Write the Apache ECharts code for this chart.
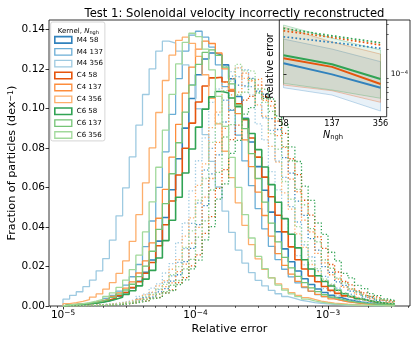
<!DOCTYPE html>
<html>
<head>
<meta charset="utf-8">
<title>Test 1: Solenoidal velocity incorrectly reconstructed</title>
<script src="https://cdn.jsdelivr.net/npm/echarts@6/dist/echarts.min.js"></script>
<style>
  html, body { margin: 0; padding: 0; background: #fff; }
  #main { width: 415px; height: 339px; }
</style>
</head>
<body>
<div id="main"></div>
<script>
var FONT = 'DejaVu Sans';

// histogram bins: 50 log-spaced bins from 1e-5 to 10^-2.5 (0.05 dex each)
var binLo = -5, binWidth = 0.05, nBins = 50;
var edges = [];
for (var k = 0; k <= nBins; k++) edges.push(Math.pow(10, binLo + binWidth * k));

// main panel tick values
var yTicks = [0, 0.02, 0.04, 0.06, 0.08, 0.10, 0.12, 0.14];
var xMajor = [1e-5, 1e-4, 1e-3];
var xMinor = [8e-6, 9e-6, 2e-5, 3e-5, 4e-5, 5e-5, 6e-5, 7e-5, 8e-5, 9e-5,
              2e-4, 3e-4, 4e-4, 5e-4, 6e-4, 7e-4, 8e-4, 9e-4, 2e-3, 3e-3, 4e-3];

// solid histograms (fraction per dex, one value per bin)
var M4_58 = [0.0004,0.0006,0.0008,0.0011,0.0015,0.0020,0.0027,0.0037,0.0050,0.0068,
  0.0092,0.0125,0.0171,0.0233,0.0328,0.0448,0.0588,0.0745,0.0900,0.1050,
  0.1170,0.1250,0.1280,0.1270,0.1220,0.1150,0.1060,0.0950,0.0830,0.0705,
  0.0586,0.0475,0.0376,0.0289,0.0224,0.0177,0.0138,0.0109,0.0086,0.0068,
  0.0054,0.0043,0.0033,0.0027,0.0020,0.0016,0.0013,0.0010,0.0008,0.0006];
var M4_137 = [0.0005,0.0007,0.0010,0.0013,0.0019,0.0027,0.0038,0.0053,0.0075,0.0106,
  0.0148,0.0210,0.0300,0.0430,0.0600,0.0780,0.0970,0.1150,0.1290,0.1370,
  0.1390,0.1360,0.1310,0.1220,0.1110,0.0990,0.0865,0.0734,0.0609,0.0493,
  0.0390,0.0302,0.0235,0.0186,0.0147,0.0117,0.0093,0.0074,0.0058,0.0047,
  0.0037,0.0029,0.0023,0.0018,0.0014,0.0012,0.0009,0.0007,0.0006,0.0005];
var M4_356 = [0.0035,0.0054,0.0072,0.0098,0.0131,0.0178,0.0240,0.0333,0.0456,0.0598,
  0.0754,0.0915,0.1070,0.1200,0.1290,0.1340,0.1330,0.1290,0.1220,0.1120,
  0.0998,0.0867,0.0732,0.0602,0.0480,0.0373,0.0283,0.0217,0.0169,0.0130,
  0.0102,0.0079,0.0062,0.0048,0.0038,0.0029,0.0023,0.0017,0.0014,0.0011,
  0.0008,0.0007,0.0005,0.0004,0.0003,0.0003,0.0002,0.0002,0.0001,0.0001];
var C4_58 = [0.0005,0.0007,0.0009,0.0012,0.0016,0.0022,0.0030,0.0039,0.0052,0.0068,
  0.0093,0.0123,0.0166,0.0220,0.0305,0.0411,0.0531,0.0663,0.0798,0.0925,
  0.1032,0.1113,0.1154,0.1157,0.1133,0.1088,0.1023,0.0942,0.0850,0.0753,
  0.0652,0.0553,0.0459,0.0375,0.0299,0.0234,0.0187,0.0152,0.0123,0.0099,
  0.0079,0.0064,0.0051,0.0042,0.0035,0.0028,0.0022,0.0017,0.0014,0.0011];
var C4_137 = [0.0006,0.0008,0.0010,0.0014,0.0019,0.0026,0.0036,0.0048,0.0066,0.0090,
  0.0122,0.0167,0.0228,0.0319,0.0444,0.0590,0.0753,0.0919,0.1077,0.1209,
  0.1300,0.1340,0.1328,0.1280,0.1200,0.1096,0.0973,0.0840,0.0705,0.0576,
  0.0458,0.0354,0.0265,0.0206,0.0161,0.0125,0.0097,0.0075,0.0059,0.0047,
  0.0036,0.0028,0.0021,0.0017,0.0013,0.0010,0.0008,0.0006,0.0005,0.0004];
var C4_356 = [0.0012,0.0017,0.0023,0.0032,0.0045,0.0061,0.0085,0.0118,0.0165,0.0228,
  0.0327,0.0462,0.0623,0.0800,0.0979,0.1141,0.1269,0.1344,0.1360,0.1329,
  0.1263,0.1170,0.1051,0.0921,0.0783,0.0649,0.0522,0.0408,0.0311,0.0238,
  0.0185,0.0143,0.0112,0.0087,0.0068,0.0053,0.0042,0.0033,0.0025,0.0019,
  0.0015,0.0012,0.0009,0.0007,0.0005,0.0004,0.0003,0.0003,0.0002,0.0002];
var C6_58 = [0.0005,0.0006,0.0008,0.0011,0.0014,0.0019,0.0025,0.0034,0.0044,0.0059,
  0.0077,0.0102,0.0136,0.0180,0.0243,0.0331,0.0434,0.0550,0.0673,0.0794,
  0.0905,0.0996,0.1058,0.1085,0.1078,0.1052,0.1008,0.0947,0.0873,0.0791,
  0.0703,0.0614,0.0525,0.0442,0.0363,0.0294,0.0234,0.0187,0.0153,0.0124,
  0.0101,0.0080,0.0062,0.0048,0.0037,0.0029,0.0022,0.0017,0.0013,0.0010];
var C6_137 = [0.0005,0.0007,0.0010,0.0013,0.0018,0.0025,0.0033,0.0044,0.0060,0.0081,
  0.0110,0.0149,0.0202,0.0277,0.0388,0.0518,0.0669,0.0826,0.0981,0.1117,
  0.1222,0.1283,0.1296,0.1268,0.1209,0.1124,0.1017,0.0897,0.0771,0.0645,
  0.0526,0.0419,0.0324,0.0246,0.0193,0.0150,0.0118,0.0092,0.0073,0.0057,
  0.0045,0.0035,0.0027,0.0021,0.0017,0.0013,0.0010,0.0008,0.0006,0.0005];
var C6_356 = [0.0006,0.0009,0.0012,0.0017,0.0025,0.0034,0.0048,0.0066,0.0094,0.0131,
  0.0184,0.0257,0.0375,0.0527,0.0702,0.0890,0.1071,0.1225,0.1334,0.1380,
  0.1363,0.1300,0.1195,0.1061,0.0909,0.0752,0.0600,0.0462,0.0344,0.0251,
  0.0189,0.0142,0.0106,0.0080,0.0061,0.0047,0.0035,0.0026,0.0020,0.0015,
  0.0011,0.0008,0.0006,0.0005,0.0004,0.0003,0.0002,0.0002,0.0001,0.0001];

// dotted histograms
var M4_58_dot = [0.0001,0.0001,0.0002,0.0003,0.0004,0.0005,0.0007,0.0009,0.0012,0.0016,
  0.0024,0.0028,0.0042,0.0049,0.0071,0.0088,0.0126,0.0158,0.0225,0.0292,
  0.0412,0.0508,0.0668,0.0765,0.0931,0.0992,0.1118,0.1109,0.1152,0.1086,
  0.1072,0.0948,0.0893,0.0751,0.0672,0.0531,0.0459,0.0341,0.0283,0.0199,
  0.0170,0.0122,0.0104,0.0075,0.0066,0.0046,0.0041,0.0028,0.0025,0.0017];
var M4_137_dot = [0.0001,0.0001,0.0002,0.0003,0.0004,0.0006,0.0008,0.0011,0.0014,0.0020,
  0.0025,0.0038,0.0046,0.0068,0.0083,0.0121,0.0152,0.0221,0.0290,0.0418,
  0.0521,0.0688,0.0798,0.0967,0.1041,0.1163,0.1158,0.1195,0.1110,0.1088,
  0.0952,0.0889,0.0733,0.0651,0.0503,0.0425,0.0309,0.0249,0.0179,0.0150,
  0.0107,0.0090,0.0064,0.0055,0.0040,0.0033,0.0024,0.0020,0.0014,0.0012];
var M4_356_dot = [0.0001,0.0002,0.0003,0.0004,0.0005,0.0007,0.0010,0.0013,0.0018,0.0025,
  0.0034,0.0049,0.0060,0.0090,0.0112,0.0167,0.0214,0.0320,0.0420,0.0582,
  0.0735,0.0851,0.1030,0.1098,0.1212,0.1186,0.1205,0.1110,0.1068,0.0921,
  0.0840,0.0680,0.0588,0.0441,0.0364,0.0255,0.0208,0.0150,0.0125,0.0088,
  0.0073,0.0052,0.0044,0.0031,0.0026,0.0018,0.0015,0.0011,0.0009,0.0007];
var C4_58_dot = [0.0001,0.0001,0.0002,0.0002,0.0003,0.0004,0.0005,0.0007,0.0009,0.0012,
  0.0016,0.0023,0.0027,0.0039,0.0046,0.0066,0.0082,0.0118,0.0144,0.0203,
  0.0259,0.0367,0.0452,0.0595,0.0690,0.0842,0.0915,0.1042,0.1061,0.1118,
  0.1060,0.1035,0.0935,0.0873,0.0745,0.0665,0.0535,0.0460,0.0350,0.0292,
  0.0210,0.0172,0.0125,0.0107,0.0077,0.0066,0.0048,0.0041,0.0030,0.0024];
var C4_137_dot = [0.0001,0.0001,0.0002,0.0003,0.0004,0.0005,0.0007,0.0009,0.0012,0.0016,
  0.0021,0.0033,0.0037,0.0056,0.0064,0.0098,0.0117,0.0174,0.0212,0.0318,
  0.0398,0.0551,0.0645,0.0828,0.0899,0.1068,0.1082,0.1178,0.1141,0.1150,
  0.1041,0.1012,0.0862,0.0803,0.0642,0.0578,0.0434,0.0375,0.0266,0.0218,
  0.0158,0.0136,0.0096,0.0085,0.0060,0.0052,0.0037,0.0032,0.0023,0.0018];
var C4_356_dot = [0.0001,0.0002,0.0002,0.0003,0.0005,0.0007,0.0009,0.0012,0.0016,0.0021,
  0.0031,0.0038,0.0056,0.0070,0.0102,0.0128,0.0186,0.0235,0.0354,0.0446,
  0.0610,0.0719,0.0902,0.0981,0.1131,0.1150,0.1205,0.1152,0.1138,0.1018,
  0.0960,0.0808,0.0728,0.0572,0.0490,0.0365,0.0297,0.0210,0.0174,0.0128,
  0.0105,0.0077,0.0064,0.0047,0.0039,0.0029,0.0024,0.0017,0.0014,0.0011];
var C6_58_dot = [0.0000,0.0001,0.0001,0.0002,0.0002,0.0003,0.0004,0.0006,0.0008,0.0011,
  0.0015,0.0021,0.0026,0.0038,0.0045,0.0065,0.0078,0.0108,0.0132,0.0188,
  0.0232,0.0335,0.0402,0.0541,0.0618,0.0772,0.0838,0.0971,0.1004,0.1078,
  0.1050,0.1046,0.0962,0.0918,0.0805,0.0731,0.0606,0.0534,0.0420,0.0362,
  0.0272,0.0228,0.0165,0.0142,0.0104,0.0088,0.0063,0.0052,0.0036,0.0028];
var C6_137_dot = [0.0001,0.0001,0.0001,0.0002,0.0003,0.0004,0.0005,0.0007,0.0010,0.0013,
  0.0019,0.0023,0.0034,0.0041,0.0060,0.0073,0.0105,0.0129,0.0188,0.0236,
  0.0348,0.0431,0.0587,0.0676,0.0855,0.0918,0.1068,0.1082,0.1148,0.1098,
  0.1095,0.0985,0.0948,0.0806,0.0735,0.0590,0.0512,0.0391,0.0324,0.0233,
  0.0191,0.0141,0.0117,0.0087,0.0072,0.0053,0.0045,0.0034,0.0028,0.0020];
var C6_356_dot = [0.0001,0.0001,0.0002,0.0003,0.0004,0.0005,0.0007,0.0010,0.0014,0.0018,
  0.0026,0.0032,0.0048,0.0059,0.0087,0.0109,0.0158,0.0199,0.0296,0.0380,
  0.0535,0.0645,0.0828,0.0925,0.1090,0.1138,0.1222,0.1190,0.1188,0.1080,
  0.1030,0.0872,0.0793,0.0630,0.0540,0.0402,0.0326,0.0228,0.0189,0.0136,
  0.0111,0.0080,0.0066,0.0048,0.0040,0.0029,0.0024,0.0017,0.0014,0.0011];

// inset: relative error vs N_ngh
var nghLabels = ['58', '137', '356'];
var nghPos = [0, 1, 2];
var midM4 = [1.35e-4, 0.99e-4, 0.684e-4];
var midC4 = [1.55e-4, 1.22e-4, 0.758e-4];
var midC6 = [1.68e-4, 1.31e-4, 0.87e-4];
var dotM4 = [2.81e-4, 2.41e-4, 2.04e-4];
var dotC4 = [3.32e-4, 2.77e-4, 2.24e-4];
var dotC6 = [3.55e-4, 2.89e-4, 2.38e-4];
var hiM4 = [2.64e-4, 2.00e-4, 1.41e-4];
var hiC4 = [3.68e-4, 2.43e-4, 1.74e-4];
var hiC6 = [3.89e-4, 2.71e-4, 1.95e-4];
var loM4 = [6.84e-5, 5.58e-5, 3.58e-5];
var loC4 = [7.37e-5, 6.29e-5, 4.56e-5];
var loC6 = [7.73e-5, 6.42e-5, 5.10e-5];
var insetYMajor = [1e-4];
var insetYMinor = [4e-5, 5e-5, 6e-5, 7e-5, 8e-5, 9e-5, 2e-4, 3e-4, 4e-4];

var names = ['M4 58', 'M4 137', 'M4 356', 'C4 58', 'C4 137', 'C4 356', 'C6 58', 'C6 137', 'C6 356'];
var solidSets = [M4_58, M4_137, M4_356, C4_58, C4_137, C4_356, C6_58, C6_137, C6_356];
var dottedSets = [M4_58_dot, M4_137_dot, M4_356_dot, C4_58_dot, C4_137_dot, C4_356_dot, C6_58_dot, C6_137_dot, C6_356_dot];
var palette = ['#3182bd', '#6baed6', '#9ecae1', '#e6550d', '#fd8d3c', '#fdae6b', '#31a354', '#74c476', '#a1d99b'];
var kernelRGB = { M4: '49,130,189', C4: '230,85,13', C6: '49,163,84' };

function stepData(vals) {
  var pts = [[edges[0], 0]];
  for (var i = 0; i < vals.length; i++) pts.push([edges[i], vals[i]]);
  pts.push([edges[vals.length], vals[vals.length - 1]]);
  pts.push([edges[vals.length], 0]);
  return pts;
}

function supLabel(v) {
  var e = Math.round(Math.log(v) / Math.LN10);
  return '{b|10}{e|\u2212' + Math.abs(e) + '}';
}

var series = [];
for (var i = 0; i < names.length; i++) {
  series.push({
    name: names[i], type: 'line', step: 'end', data: stepData(solidSets[i]),
    xAxisIndex: 0, yAxisIndex: 0, symbol: 'none', silent: true,
    lineStyle: { color: palette[i], width: i % 3 === 0 ? 1.6 : 1.3 },
    itemStyle: { color: palette[i] }
  });
  series.push({
    name: names[i] + ' dotted', type: 'line', step: 'end', data: stepData(dottedSets[i]),
    xAxisIndex: 0, yAxisIndex: 0, symbol: 'none', silent: true,
    lineStyle: { color: palette[i], width: 1.3, type: [1.3, 2] }
  });
}

function bandSeries(lo, hi, rgb) {
  return {
    type: 'custom', xAxisIndex: 2, yAxisIndex: 1, zlevel: 1, z: 2, silent: true,
    data: nghPos.map(function (x, j) { return [x, lo[j], hi[j]]; }),
    encode: { x: 0, y: [1, 2] },
    renderItem: function (params, api) {
      if (params.dataIndex !== 0) return null;
      var top = [], bot = [];
      for (var j = 0; j < nghPos.length; j++) {
        top.push(api.coord([nghPos[j], hi[j]]));
        bot.unshift(api.coord([nghPos[j], lo[j]]));
      }
      return {
        type: 'polygon', shape: { points: top.concat(bot) },
        style: { fill: 'rgba(' + rgb + ',0.11)', stroke: 'rgba(' + rgb + ',0.3)', lineWidth: 1 }
      };
    }
  };
}

function insetLine(vals, color, dotted) {
  return {
    type: 'line', xAxisIndex: 2, yAxisIndex: 1, zlevel: 1, z: 3, symbol: 'none', silent: true,
    data: nghPos.map(function (x, j) { return [x, vals[j]]; }),
    lineStyle: dotted ? { color: color, width: 1.7, type: [1.7, 2.3] } : { color: color, width: 2 }
  };
}

series.push(bandSeries(loM4, hiM4, kernelRGB.M4));
series.push(bandSeries(loC4, hiC4, kernelRGB.C4));
series.push(bandSeries(loC6, hiC6, kernelRGB.C6));
series.push(insetLine(midM4, palette[0], false));
series.push(insetLine(midC4, palette[3], false));
series.push(insetLine(midC6, palette[6], false));
series.push(insetLine(dotM4, palette[0], true));
series.push(insetLine(dotC4, palette[3], true));
series.push(insetLine(dotC6, palette[6], true));

var tickLine = { color: '#000', width: 0.8 };
var chart = echarts.init(document.getElementById('main'), null, { renderer: 'canvas' });

chart.setOption({
  animation: false,
  backgroundColor: '#fff',
  textStyle: { fontFamily: FONT },
  title: [
    { text: 'Test 1: Solenoidal velocity incorrectly reconstructed', left: 229.5, top: 3, textAlign: 'center',
      textStyle: { fontFamily: FONT, fontSize: 11.6, fontWeight: 'normal', color: '#000' } },
    { text: '{a|Kernel, }{i|N}{s|ngh}', left: 52.7, top: 22, z: 10,
      textStyle: { fontWeight: 'normal', rich: {
        a: { fontFamily: FONT, fontSize: 7, fontWeight: 'normal', color: '#000' },
        i: { fontFamily: FONT, fontSize: 7, fontWeight: 'normal', fontStyle: 'italic', color: '#000' },
        s: { fontFamily: FONT, fontSize: 5, fontWeight: 'normal', color: '#000', verticalAlign: 'bottom', padding: [3, 0, 0, 0] }
      } } }
  ],
  legend: {
    data: names.map(function (n, j) {
      return { name: n, icon: 'rect',
        itemStyle: { color: 'rgba(0,0,0,0)', borderColor: palette[j], borderWidth: j % 3 === 0 ? 1.6 : 1.3 } };
    }),
    orient: 'vertical', left: 50.7, top: 22,
    itemWidth: 17, itemHeight: 6.5, itemGap: 4,
    padding: [13.8, 2, 2, 3.3],
    backgroundColor: 'rgba(255,255,255,0.8)', borderColor: '#ccc', borderWidth: 0.8, borderRadius: 2,
    textStyle: { fontFamily: FONT, fontSize: 7, color: '#000', lineHeight: 7 },
    selectedMode: false
  },
  grid: [
    { left: 49, right: 5, top: 20, bottom: 33, outerBoundsMode: 'none', containLabel: false,
      show: true, borderColor: '#000', borderWidth: 0.8 },
    { left: 279.3, top: 20, width: 107.4, height: 96.7, outerBoundsMode: 'none', containLabel: false,
      show: true, backgroundColor: '#fff', borderColor: '#000', borderWidth: 0.8, zlevel: 1 }
  ],
  xAxis: [
    { type: 'log', logBase: 10, gridIndex: 0, min: Math.pow(10, -5.1057), max: Math.pow(10, -2.3811),
      axisLine: { show: false }, splitLine: { show: false },
      axisTick: { show: true, length: 3.5, lineStyle: tickLine, customValues: xMajor },
      axisLabel: { customValues: xMajor, margin: 4, color: '#000', formatter: supLabel,
        rich: { b: { fontFamily: FONT, fontSize: 10.5, color: '#000' },
                e: { fontFamily: FONT, fontSize: 7.4, color: '#000', verticalAlign: 'top' } } },
      name: 'Relative error', nameLocation: 'middle', nameGap: 18, nameMoveOverlap: false,
      nameTextStyle: { fontFamily: FONT, fontSize: 11.2, color: '#000' } },
    { type: 'log', logBase: 10, gridIndex: 0, position: 'bottom', min: Math.pow(10, -5.1057), max: Math.pow(10, -2.3811),
      axisLine: { show: false }, splitLine: { show: false },
      axisTick: { show: true, length: 2, lineStyle: { color: '#000', width: 0.6 }, customValues: xMinor },
      axisLabel: { show: false } },
    { type: 'value', gridIndex: 1, min: -0.087, max: 2.128, zlevel: 1, z: 5,
      axisLine: { show: false }, splitLine: { show: false },
      axisTick: { show: true, length: 3, lineStyle: tickLine, customValues: nghPos },
      axisLabel: { customValues: nghPos, margin: 3, color: '#000', fontFamily: FONT, fontSize: 8.2,
        formatter: function (v) { return nghLabels[Math.round(v)]; } },
      name: '{i|N}{s|ngh}', nameLocation: 'middle', nameGap: 13, nameMoveOverlap: false,
      nameTextStyle: { rich: {
        i: { fontFamily: FONT, fontSize: 9.7, fontStyle: 'italic', color: '#000' },
        s: { fontFamily: FONT, fontSize: 6.8, color: '#000', verticalAlign: 'bottom', padding: [4, 0, 0, 0] }
      } } }
  ],
  yAxis: [
    { type: 'value', gridIndex: 0, min: 0, max: 0.1447,
      axisLine: { show: false }, splitLine: { show: false },
      axisTick: { show: true, length: 3.5, lineStyle: tickLine, customValues: yTicks },
      axisLabel: { customValues: yTicks, margin: 4, color: '#000', fontFamily: FONT, fontSize: 10.5,
        formatter: function (v) { return v.toFixed(2); } },
      name: '{a|Fraction of particles (dex}{e|\u22121}{a|)}', nameLocation: 'middle', nameGap: 31,
      nameMoveOverlap: false,
      nameTextStyle: { rich: {
        a: { fontFamily: FONT, fontSize: 11.2, color: '#000' },
        e: { fontFamily: FONT, fontSize: 7.8, color: '#000', verticalAlign: 'top' }
      } } },
    { type: 'log', logBase: 10, gridIndex: 1, position: 'right', min: 3.06e-5, max: 4.48e-4, zlevel: 1, z: 5,
      axisLine: { show: false }, splitLine: { show: false },
      axisTick: { show: true, length: 3, lineStyle: tickLine, customValues: insetYMajor },
      axisLabel: { customValues: insetYMajor, margin: 4, color: '#000', formatter: supLabel,
        rich: { b: { fontFamily: FONT, fontSize: 7.5, color: '#000' },
                e: { fontFamily: FONT, fontSize: 5.3, color: '#000', verticalAlign: 'top' } } } },
    { type: 'log', logBase: 10, gridIndex: 1, position: 'right', min: 3.06e-5, max: 4.48e-4, zlevel: 1, z: 5,
      axisLine: { show: false }, splitLine: { show: false },
      axisTick: { show: true, length: 2, lineStyle: { color: '#000', width: 0.6 }, customValues: insetYMinor },
      axisLabel: { show: false } }
  ],
  graphic: [
    { type: 'text', zlevel: 1, z: 10, x: 270, y: 66, rotation: Math.PI / 2,
      style: { text: 'Relative error', fontFamily: FONT, fontSize: 9.7, fill: '#000', align: 'center', verticalAlign: 'middle' } }
  ],
  series: series
});
</script>
</body>
</html>
